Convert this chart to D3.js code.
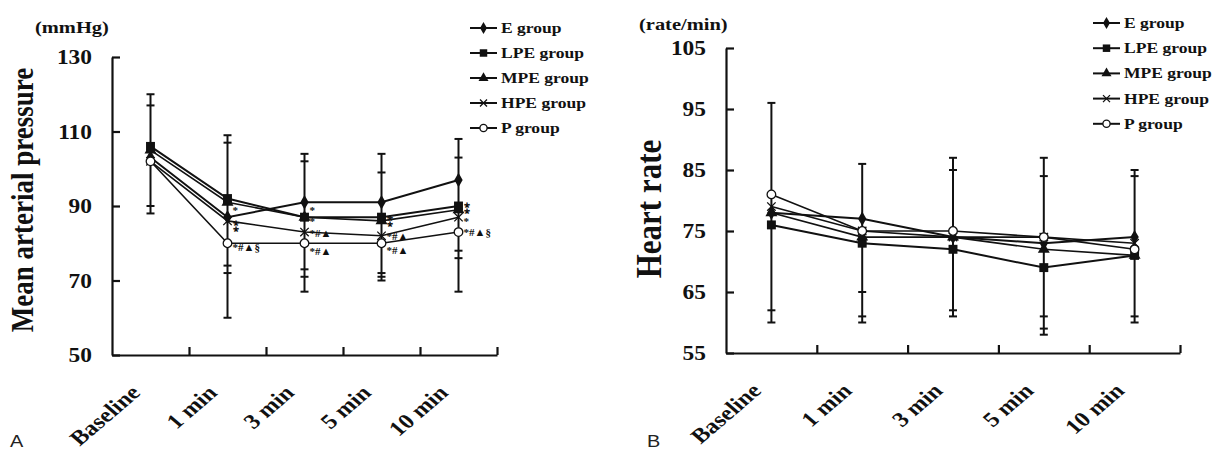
<!DOCTYPE html>
<html>
<head>
<meta charset="utf-8">
<script src="https://cdn.jsdelivr.net/npm/d3@7"></script>
<style>
  html, body { margin: 0; padding: 0; background: #fff; }
  svg { display: block; }
</style>
</head>
<body>
<svg id="chart" width="1214" height="450"></svg>
<script>
// ---------- DATA ----------
const categories = ["Baseline", "1 min", "3 min", "5 min", "10 min"];
const groups = ["E group", "LPE group", "MPE group", "HPE group", "P group"];

// Panel A: mean arterial pressure (mmHg)
const mapE   = [103, 87, 91, 91, 97];
const mapLPE = [106, 92, 87, 87, 90];
const mapMPE = [105, 91, 87, 86, 89];
const mapHPE = [102, 86, 83, 82, 87];
const mapP   = [102, 80, 80, 80, 83];
const mapTicks = [50, 70, 90, 110, 130];
const mapErrHigh = [[120, 117], [109, 107], [104, 102], [104, 99], [108, 103]];
const mapErrLow  = [[90, 88], [74, 72, 60], [73, 71, 67], [72, 71, 70], [78, 76, 67]];
// significance marks: category index, value level, label ("⁑" = two stacked asterisks)
const noteCat  = [1, 1, 1, 2, 2, 2, 2, 3, 3, 3, 4, 4, 4];
const noteVal  = [89.2, 85.3, 79.3, 89.2, 86.2, 83.0, 78.2, 86.6, 82.2, 78.5, 89.9, 86.2, 83.3];
const noteText = ["*", "⁑", "*#▲§", "*", "*", "*#▲", "*#▲", "⁑", "*#▲", "*#▲", "⁑", "*", "*#▲§"];

// Panel B: heart rate (rate/min)
const hrE   = [78, 77, 74, 73, 74];
const hrLPE = [76, 73, 72, 69, 71];
const hrMPE = [78, 74, 74, 72, 71];
const hrHPE = [79, 75, 74, 74, 73];
const hrP   = [81, 75, 75, 74, 72];
const hrTicks = [55, 65, 75, 85, 95, 105];
const hrErrHigh = [[96], [86], [87, 85], [87, 84], [85, 84]];
const hrErrLow  = [[62, 60], [65, 61, 60], [62, 61], [61, 59, 58], [61, 60]];

// ---------- DRAWING ----------
const SX = 1.17; // horizontal text stretch seen in the reference
const FONT = "'Liberation Serif', 'Times New Roman', serif";
const INK = "#111";
const svg = d3.select("#chart");

function sgroup(g, x, y, rotate) {
  return g.append("g")
    .attr("transform", `translate(${x},${y}) scale(${SX},1)` + (rotate ? ` rotate(${rotate})` : ""));
}
function stext(g, x, y, txt, o) {
  o = o || {};
  return sgroup(g, x, y, o.rotate).append("text")
    .attr("x", 0).attr("y", 0)
    .attr("text-anchor", o.anchor || "start")
    .attr("font-family", o.family || FONT)
    .attr("font-weight", o.weight || "bold")
    .attr("font-size", o.size || 16)
    .attr("fill", o.fill || INK)
    .text(txt);
}

const symbolDefs = [
  { type: d3.symbolDiamond, size: 60, fill: INK },
  { type: d3.symbolSquare, size: 80, fill: INK },
  { type: d3.symbolTriangle, size: 62, fill: INK },
  { type: d3.symbolTimes, size: 48, fill: "none", stroke: true },
  { type: d3.symbolCircle, size: 58, fill: "#fff", stroke: true }
];

function drawMarker(g, i, x, y, scale) {
  const s = symbolDefs[i];
  g.append("path")
    .attr("d", d3.symbol().type(s.type).size(s.size * (scale || 1))())
    .attr("transform", `translate(${x},${y})`)
    .attr("fill", s.fill)
    .attr("stroke", s.stroke ? INK : "none")
    .attr("stroke-width", s.stroke ? 1.3 : 0);
}

function drawPanel(cfg) {
  const g = svg.append("g");
  const xb = d3.scaleBand().domain(categories).range(cfg.xRange).paddingInner(0).paddingOuter(0);
  const cx = c => xb(c) + xb.bandwidth() / 2;
  const xi = d3.scaleLinear().domain([0, categories.length]).range(cfg.xRange);
  const y = d3.scaleLinear().domain(cfg.yDomain).range(cfg.yRange);

  // y axis (ticks inward)
  const ya = g.append("g").attr("transform", `translate(${cfg.xRange[0]},0)`)
    .call(d3.axisLeft(y).tickValues(cfg.ticks).tickSize(-8).tickSizeOuter(0).tickFormat(""));
  // x axis (band boundaries, ticks inward)
  const xa = g.append("g").attr("transform", `translate(0,${cfg.yRange[0]})`)
    .call(d3.axisBottom(xi).tickValues(d3.range(1, categories.length + 1)).tickSize(-8).tickSizeOuter(0).tickFormat(""));
  [ya, xa].forEach(a => {
    a.selectAll("path.domain").attr("stroke", INK).attr("stroke-width", 2.2);
    a.selectAll(".tick line").attr("stroke", INK).attr("stroke-width", 2.2);
  });

  // y tick labels
  cfg.ticks.forEach(v => stext(g, cfg.xRange[0] - 20, y(v) + 7, String(v), { anchor: "end", size: 20 }));
  // x tick labels
  categories.forEach(c => stext(g, cx(c) - 9, cfg.yRange[0] + 39, c, { anchor: "end", size: 21, rotate: -45 }));

  // unit + axis title
  stext(g, cfg.unitPos[0], cfg.unitPos[1], cfg.unit, { size: 17.5 });
  stext(g, cfg.titlePos[0], cfg.titlePos[1], cfg.title, { anchor: "middle", size: cfg.titleSize, rotate: -90 });

  // error bars
  categories.forEach((c, i) => {
    const hi = cfg.errHigh[i], lo = cfg.errLow[i];
    const top = d3.max(hi), bot = d3.min(lo);
    g.append("line").attr("x1", cx(c)).attr("x2", cx(c)).attr("y1", y(top)).attr("y2", y(bot))
      .attr("stroke", INK).attr("stroke-width", 2);
    hi.concat(lo).forEach(v => {
      g.append("line").attr("x1", cx(c) - 4).attr("x2", cx(c) + 4).attr("y1", y(v)).attr("y2", y(v))
        .attr("stroke", INK).attr("stroke-width", 2);
    });
  });

  // lines
  const line = d3.line().x((d, i) => cx(categories[i])).y(d => y(d));
  cfg.series.forEach((s, k) => {
    g.append("path").datum(s).attr("d", line).attr("fill", "none")
      .attr("stroke", INK).attr("stroke-width", k < 2 ? 2 : 1.6);
  });
  // markers
  cfg.series.forEach((s, k) => {
    s.forEach((v, i) => drawMarker(g, k, cx(categories[i]), y(v)));
  });

  // significance notes
  if (cfg.notes) {
    cfg.notes.cat.forEach((ci, j) => {
      g.append("text")
        .attr("x", cx(categories[ci]) + 5).attr("y", y(cfg.notes.val[j]) + 5)
        .attr("font-family", FONT).attr("font-weight", "bold").attr("font-size", 11)
        .attr("fill", INK)
        .text(cfg.notes.text[j]);
    });
  }

  // legend
  groups.forEach((name, i) => {
    const ly = cfg.legY + i * cfg.legStep;
    g.append("line").attr("x1", cfg.legX).attr("x2", cfg.legX + 27).attr("y1", ly).attr("y2", ly)
      .attr("stroke", INK).attr("stroke-width", 2);
    drawMarker(g, i, cfg.legX + 13.5, ly, 0.7);
    stext(g, cfg.legX + 31, ly + 5, name, { size: 15 });
  });

  // panel letter
  stext(g, cfg.letterPos[0], cfg.letterPos[1], cfg.letter, { size: 17, weight: "normal", family: "'Liberation Sans', Arial, sans-serif", fill: "#222" });
}

drawPanel({
  xRange: [112, 497], yDomain: [50, 130], yRange: [355, 57], ticks: mapTicks,
  series: [mapE, mapLPE, mapMPE, mapHPE, mapP],
  errHigh: mapErrHigh, errLow: mapErrLow,
  notes: { cat: noteCat, val: noteVal, text: noteText },
  unit: "(mmHg)", unitPos: [35, 33],
  title: "Mean arterial pressure", titlePos: [33, 200], titleSize: 27,
  legX: 470, legY: 28, legStep: 25,
  letter: "A", letterPos: [10, 447]
});

drawPanel({
  xRange: [726, 1180], yDomain: [55, 105], yRange: [353, 48], ticks: hrTicks,
  series: [hrE, hrLPE, hrMPE, hrHPE, hrP],
  errHigh: hrErrHigh, errLow: hrErrLow,
  notes: null,
  unit: "(rate/min)", unitPos: [639, 30],
  title: "Heart rate", titlePos: [661, 209], titleSize: 31,
  legX: 1093, legY: 23, legStep: 25.2,
  letter: "B", letterPos: [647, 447]
});
</script>
</body>
</html>
